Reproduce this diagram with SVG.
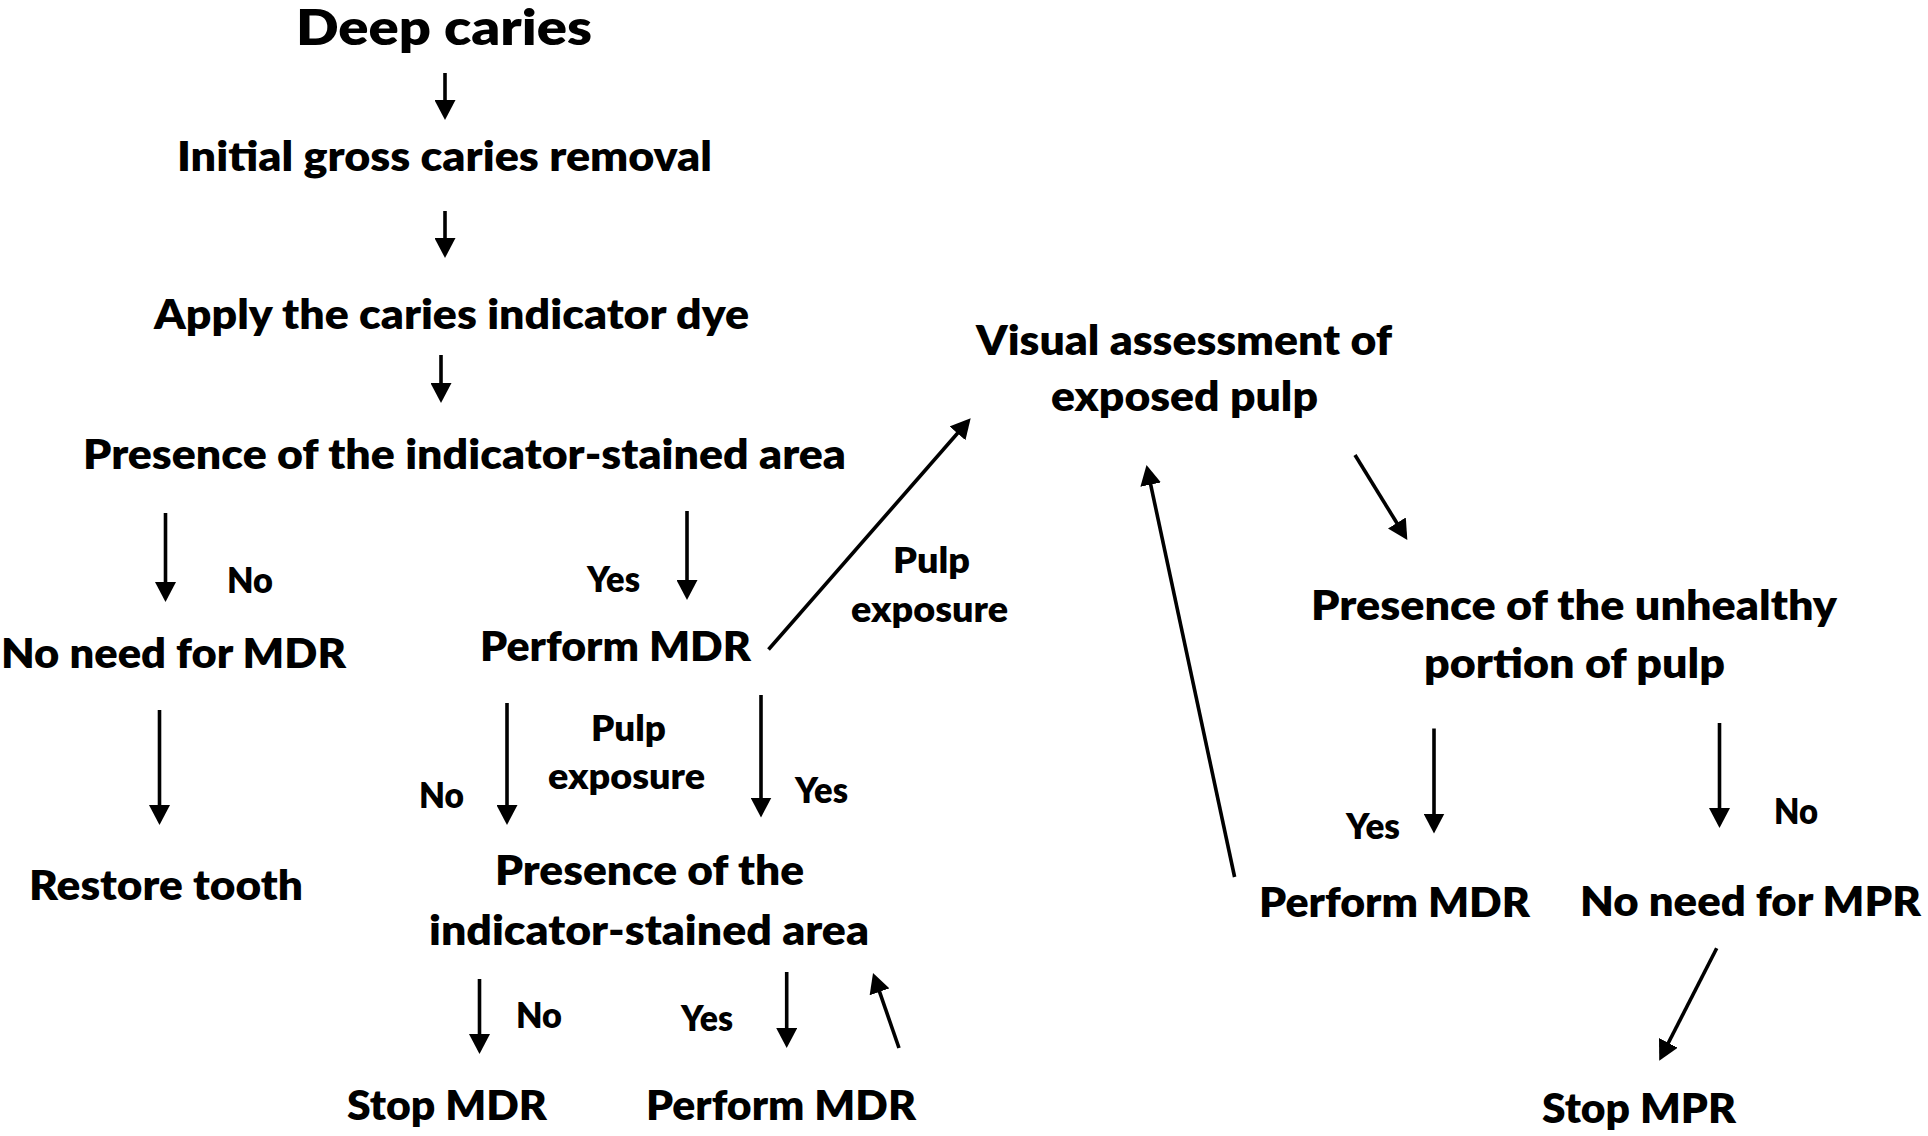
<svg xmlns="http://www.w3.org/2000/svg" width="1928" height="1136" viewBox="0 0 1928 1136">
<style>
text{font-family:Lato,"Open Sans","Liberation Sans",sans-serif;font-weight:800;fill:#000}
.t{font-size:42px}
.b{font-size:50px}
.l{font-size:35px}
.c{stroke:#000;stroke-width:3.6;fill:none;marker-end:url(#ah)}
</style>
<defs>
<marker id="ah" markerUnits="userSpaceOnUse" markerWidth="20" markerHeight="21" viewBox="0 0 20 21" refX="10" refY="10.5" orient="auto">
<path d="M0,0 L20,10.5 L0,21 z" fill="#000"/>
</marker>
</defs>
<rect width="1928" height="1136" fill="#fff"/>
<g id="n-deep"><text class="b" x="296" y="45" textLength="296" lengthAdjust="spacingAndGlyphs">Deep caries</text></g>
<g id="n-initial"><text class="t" x="177" y="171" textLength="535" lengthAdjust="spacingAndGlyphs">Initial gross caries removal</text></g>
<g id="n-apply"><text class="t" x="154" y="329" textLength="595" lengthAdjust="spacingAndGlyphs">Apply the caries indicator dye</text></g>
<g id="n-presence1"><text class="t" x="83" y="469" textLength="763" lengthAdjust="spacingAndGlyphs">Presence of the indicator-stained area</text></g>
<g id="n-noneed-mdr"><text class="t" x="1" y="668" textLength="345" lengthAdjust="spacingAndGlyphs">No need for MDR</text></g>
<g id="n-perform1"><text class="t" x="480" y="661" textLength="271" lengthAdjust="spacingAndGlyphs">Perform MDR</text></g>
<g id="n-restore"><text class="t" x="29" y="900" textLength="274" lengthAdjust="spacingAndGlyphs">Restore tooth</text></g>
<g id="n-presence2"><text class="t" x="495" y="885" textLength="309" lengthAdjust="spacingAndGlyphs">Presence of the</text><text class="t" x="429" y="945" textLength="440" lengthAdjust="spacingAndGlyphs">indicator-stained area</text></g>
<g id="n-stop-mdr"><text class="t" x="347" y="1120" textLength="200" lengthAdjust="spacingAndGlyphs">Stop MDR</text></g>
<g id="n-perform2"><text class="t" x="646" y="1120" textLength="270" lengthAdjust="spacingAndGlyphs">Perform MDR</text></g>
<g id="n-visual"><text class="t" x="976" y="355" textLength="416" lengthAdjust="spacingAndGlyphs">Visual assessment of</text><text class="t" x="1051" y="411" textLength="267" lengthAdjust="spacingAndGlyphs">exposed pulp</text></g>
<g id="n-unhealthy"><text class="t" x="1311" y="620" textLength="526" lengthAdjust="spacingAndGlyphs">Presence of the unhealthy</text><text class="t" x="1424" y="678" textLength="301" lengthAdjust="spacingAndGlyphs">portion of pulp</text></g>
<g id="n-perform3"><text class="t" x="1259" y="917" textLength="271" lengthAdjust="spacingAndGlyphs">Perform MDR</text></g>
<g id="n-noneed-mpr"><text class="t" x="1580" y="916" textLength="341" lengthAdjust="spacingAndGlyphs">No need for MPR</text></g>
<g id="n-stop-mpr"><text class="t" x="1542" y="1123" textLength="194" lengthAdjust="spacingAndGlyphs">Stop MPR</text></g>
<g id="connectors">
<line class="c" x1="445" y1="73" x2="445" y2="110"/>
<line class="c" x1="445" y1="211" x2="445" y2="248"/>
<line class="c" x1="441" y1="355" x2="441" y2="393"/>
<line class="c" x1="165.5" y1="513" x2="165.5" y2="592"/>
<line class="c" x1="687" y1="511" x2="687" y2="590"/>
<line class="c" x1="768.5" y1="649.5" x2="964.1" y2="425.8"/>
<line class="c" x1="159.5" y1="710" x2="159.5" y2="815"/>
<line class="c" x1="507" y1="703" x2="507" y2="815"/>
<line class="c" x1="761" y1="695" x2="761" y2="807.5"/>
<line class="c" x1="479.5" y1="979" x2="479.5" y2="1044"/>
<line class="c" x1="786.7" y1="972" x2="786.7" y2="1038"/>
<line class="c" x1="899" y1="1048" x2="876.3" y2="982.4"/>
<line class="c" x1="1234.6" y1="877" x2="1148.6" y2="474.8"/>
<line class="c" x1="1355" y1="455" x2="1402.1" y2="531.5"/>
<line class="c" x1="1434" y1="728.5" x2="1434" y2="823.5"/>
<line class="c" x1="1719.5" y1="723" x2="1719.5" y2="818"/>
<line class="c" x1="1716.7" y1="948.3" x2="1663.8" y2="1051.8"/>
<text class="l" x="227" y="593" textLength="46" lengthAdjust="spacingAndGlyphs">No</text>
<text class="l" x="587" y="592" textLength="53" lengthAdjust="spacingAndGlyphs">Yes</text>
<text class="l" x="893" y="573" textLength="77" lengthAdjust="spacingAndGlyphs">Pulp</text>
<text class="l" x="851" y="622" textLength="157" lengthAdjust="spacingAndGlyphs">exposure</text>
<text class="l" x="419" y="808" textLength="45" lengthAdjust="spacingAndGlyphs">No</text>
<text class="l" x="591" y="741" textLength="75" lengthAdjust="spacingAndGlyphs">Pulp</text>
<text class="l" x="548" y="789" textLength="157" lengthAdjust="spacingAndGlyphs">exposure</text>
<text class="l" x="795" y="803" textLength="53" lengthAdjust="spacingAndGlyphs">Yes</text>
<text class="l" x="516" y="1028" textLength="46" lengthAdjust="spacingAndGlyphs">No</text>
<text class="l" x="681" y="1031" textLength="52" lengthAdjust="spacingAndGlyphs">Yes</text>
<text class="l" x="1346" y="839" textLength="54" lengthAdjust="spacingAndGlyphs">Yes</text>
<text class="l" x="1774" y="824" textLength="44" lengthAdjust="spacingAndGlyphs">No</text>
</g>
</svg>
